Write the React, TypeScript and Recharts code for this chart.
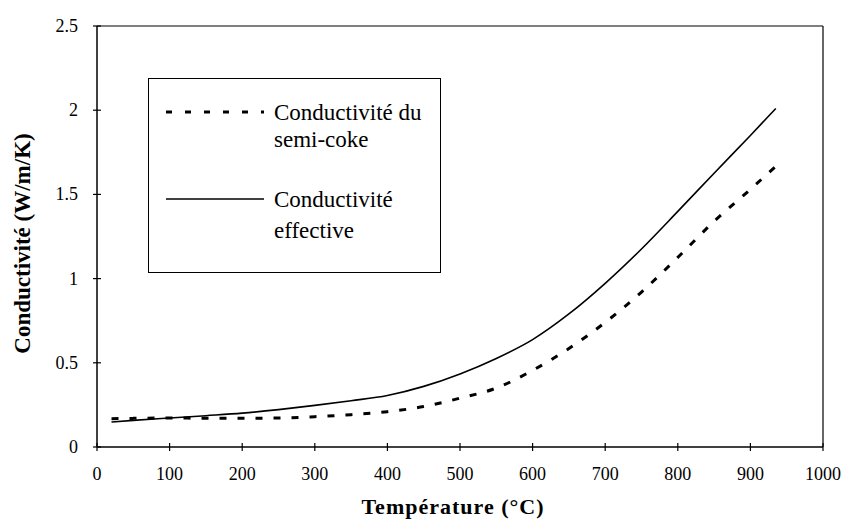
import React from 'react';
import { LineChart, Line, XAxis, YAxis, ReferenceLine } from 'recharts';

const temperatures = [20, 50, 100, 150, 200, 250, 300, 350, 400, 450, 500, 550, 600, 650, 700, 750, 800, 850, 900, 935];
const semiCoke = [0.168, 0.17, 0.172, 0.171, 0.171, 0.172, 0.18, 0.192, 0.21, 0.24, 0.29, 0.35, 0.455, 0.585, 0.74, 0.92, 1.126, 1.34, 1.53, 1.667];
const effective = [0.148, 0.158, 0.172, 0.186, 0.201, 0.222, 0.247, 0.275, 0.306, 0.36, 0.434, 0.526, 0.638, 0.79, 0.972, 1.176, 1.399, 1.626, 1.85, 2.01];
const xTicks = [0, 100, 200, 300, 400, 500, 600, 700, 800, 900, 1000];
const yTicks = [0, 0.5, 1, 1.5, 2, 2.5];
const seriesNames = ['Conductivité du semi-coke', 'Conductivité effective'];

const data = temperatures.map((t, i) => ({ t, semiCoke: semiCoke[i], effective: effective[i] }));

const FONT = '"Liberation Serif", "Times New Roman", serif';

const XTick = ({ x, y, payload }: any) => (
  <g>
    <line x1={x} x2={x} y1={y - 4} y2={y + 4} stroke="#000" strokeWidth={1.2} />
    <text x={x} y={y + 33} textAnchor="middle" fontFamily={FONT} fontSize={18} fill="#000">
      {payload.value}
    </text>
  </g>
);

const YTick = ({ x, y, payload }: any) => (
  <g>
    <line x1={x - 4} x2={x + 4} y1={y} y2={y} stroke="#000" strokeWidth={1.2} />
    <text x={x - 19} y={y + 6} textAnchor="end" fontFamily={FONT} fontSize={18} fill="#000">
      {payload.value}
    </text>
  </g>
);

const ChartLegend = () => (
  <div
    style={{
      position: 'absolute',
      left: 148,
      top: 78,
      width: 291,
      height: 193,
      border: '1.5px solid #000',
      background: '#fff',
    }}
  >
    <svg width={291} height={193} style={{ display: 'block' }}>
      <line x1={17} x2={115} y1={33} y2={33} stroke="#000" strokeWidth={3} strokeDasharray="6 13" />
      <text x={125} y={41} fontFamily={FONT} fontSize={23} fill="#000">Conductivité du</text>
      <text x={125} y={68} fontFamily={FONT} fontSize={23} fill="#000">semi-coke</text>
      <line x1={17} x2={115} y1={120} y2={120} stroke="#000" strokeWidth={1.5} />
      <text x={125} y={128} fontFamily={FONT} fontSize={23} fill="#000">Conductivité</text>
      <text x={125} y={159} fontFamily={FONT} fontSize={23} fill="#000">effective</text>
    </svg>
  </div>
);

export default function App() {
  return (
    <div style={{ position: 'absolute', left: 0, top: 0, width: 843, height: 522, background: '#fff' }}>
      <LineChart width={843} height={522} data={data} margin={{ top: 26, right: 20, left: 0, bottom: 0 }}>
        <XAxis
          dataKey="t"
          type="number"
          domain={[0, 1000]}
          ticks={xTicks}
          height={75}
          stroke="#000"
          strokeWidth={1.5}
          tickLine={false}
          tickSize={0}
          tickMargin={0}
          tick={<XTick />}
          interval={0}
          label={{
            content: ({ viewBox }: any) => (
              <text
                x={viewBox.x + viewBox.width / 2 - 7}
                y={viewBox.y + 67}
                textAnchor="middle"
                fontFamily={FONT}
                fontWeight="bold"
                fontSize={22}
                letterSpacing={1}
                fill="#000"
              >
                Température (°C)
              </text>
            ),
          }}
        />
        <YAxis
          type="number"
          domain={[0, 2.5]}
          ticks={yTicks}
          width={97}
          stroke="#000"
          strokeWidth={1.5}
          tickLine={false}
          tickSize={0}
          tickMargin={0}
          tick={<YTick />}
          interval={0}
          label={{
            content: ({ viewBox }: any) => {
              const cy = viewBox.y + viewBox.height / 2 + 7;
              return (
                <text
                  x={30}
                  y={cy}
                  transform={`rotate(-90 30 ${cy})`}
                  textAnchor="middle"
                  fontFamily={FONT}
                  fontWeight="bold"
                  fontSize={23}
                  fill="#000"
                >
                  Conductivité (W/m/K)
                </text>
              );
            },
          }}
        />
        <ReferenceLine y={2.5} stroke="#000" strokeWidth={1.2} />
        <ReferenceLine x={1000} stroke="#000" strokeWidth={1.2} />
        <Line
          type="monotone"
          dataKey="semiCoke"
          name={seriesNames[0]}
          stroke="#000"
          strokeWidth={3}
          strokeDasharray="7 11"
          dot={false}
          isAnimationActive={false}
        />
        <Line
          type="monotone"
          dataKey="effective"
          name={seriesNames[1]}
          stroke="#000"
          strokeWidth={1.6}
          dot={false}
          isAnimationActive={false}
        />
      </LineChart>
      <ChartLegend />
    </div>
  );
}
